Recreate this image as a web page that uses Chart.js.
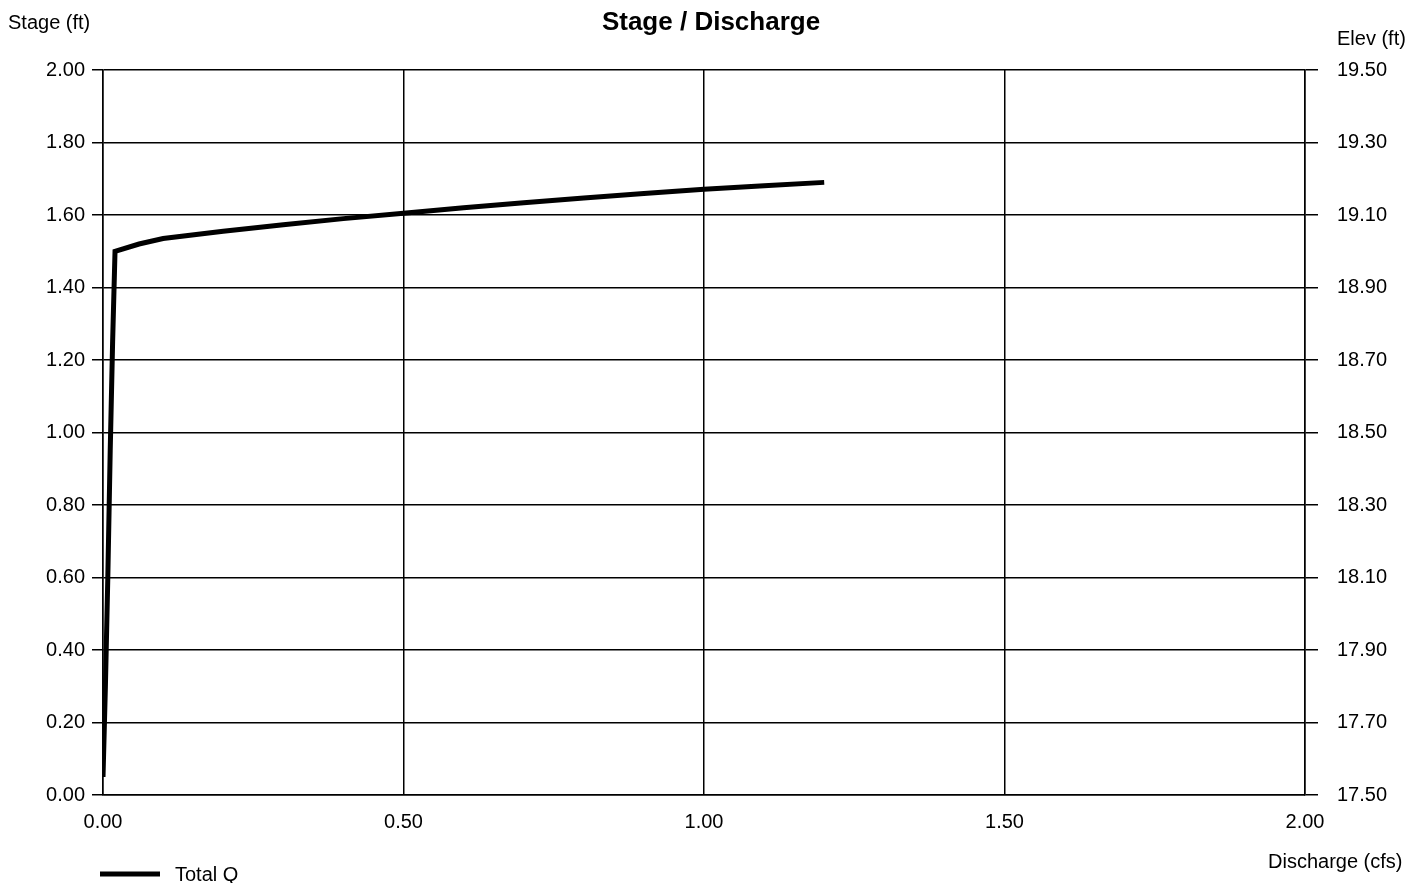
<!DOCTYPE html>
<html lang="en">

<head>
    <meta charset="UTF-8">
    <title>Stage / Discharge</title>
    <script src="https://cdn.jsdelivr.net/npm/chart.js"></script>
    <style>
        body { margin: 0; background: #fff; }
        #grafico { display: block; }
    </style>
</head>

<body>
    <canvas id="grafico" width="1424" height="883"></canvas>

    <script>
        // values
        const discharge = [0.000, 0.004, 0.008, 0.012, 0.016, 0.020, 0.060, 0.100, 0.200, 0.300, 0.400, 0.500, 0.600, 0.700, 0.800, 0.900, 1.000, 1.100, 1.200];
        const stage = [0.05, 0.30, 0.60, 0.95, 1.25, 1.50, 1.52, 1.535, 1.555, 1.573, 1.590, 1.605, 1.620, 1.634, 1.647, 1.659, 1.671, 1.681, 1.690];
        const baseElev = 17.50;
        const serieNome = 'Total Q';

        const fonte = '"Liberation Sans", Arial, sans-serif';

        const textos = {
            id: 'textos',
            afterDraw(chart) {
                const c = chart.ctx;
                c.save();
                c.fillStyle = '#000';
                c.textBaseline = 'middle';
                c.font = 'bold 26px ' + fonte;
                c.textAlign = 'center';
                c.fillText('Stage / Discharge', 711, 23);
                c.font = '20px ' + fonte;
                c.textAlign = 'left';
                c.fillText('Stage (ft)', 8, 23);
                c.fillText('Elev (ft)', 1337, 39);
                c.font = '20px ' + fonte;
                c.fillText('Discharge (cfs)', 1268, 862);
                c.fillText(serieNome, 175, 875);
                c.strokeStyle = '#000';
                c.lineWidth = 5;
                c.beginPath();
                c.moveTo(100, 874);
                c.lineTo(160, 874);
                c.stroke();
                c.restore();
            }
        };

        const ctx = document.getElementById('grafico').getContext('2d');
        new Chart(ctx, {
            type: 'line',
            data: {
                datasets: [{
                    label: serieNome,
                    data: discharge.map((x, i) => ({ x: x, y: stage[i] })),
                    borderColor: '#000',
                    borderWidth: 5,
                    pointRadius: 0,
                    tension: 0,
                    fill: false,
                    yAxisID: 'y'
                }, {
                    label: 'elev',
                    data: [],
                    yAxisID: 'y2'
                }]
            },
            options: {
                responsive: false,
                animation: false,
                layout: { padding: { top: 70, left: 0, right: 0, bottom: 0 } },
                plugins: {
                    legend: { display: false },
                    title: { display: false },
                    tooltip: { enabled: false }
                },
                scales: {
                    x: {
                        type: 'linear',
                        min: 0,
                        max: 2,
                        ticks: {
                            stepSize: 0.5,
                            color: '#000',
                            font: { family: fonte, size: 20 },
                            padding: 15,
                            callback: v => v.toFixed(2)
                        },
                        grid: { color: '#000', lineWidth: 1.5, drawTicks: false },
                        border: { color: '#000', width: 1.5 },
                        afterFit: s => { s.height = 88; }
                    },
                    y: {
                        position: 'left',
                        min: 0,
                        max: 2,
                        ticks: {
                            stepSize: 0.2,
                            color: '#000',
                            font: { family: fonte, size: 20 },
                            padding: 7,
                            callback: v => v.toFixed(2)
                        },
                        grid: { color: '#000', lineWidth: 1.5, tickLength: 11 },
                        border: { color: '#000', width: 1.5 },
                        afterFit: s => { s.width = 103; }
                    },
                    y2: {
                        position: 'right',
                        min: baseElev,
                        max: baseElev + 2,
                        ticks: {
                            stepSize: 0.2,
                            color: '#000',
                            font: { family: fonte, size: 20 },
                            padding: 19,
                            callback: v => v.toFixed(2)
                        },
                        grid: { drawOnChartArea: false, color: '#000', lineWidth: 1.5, tickLength: 13 },
                        border: { color: '#000', width: 1.5 },
                        afterFit: s => { s.width = 119; }
                    }
                }
            },
            plugins: [textos]
        });
    </script>
</body>

</html>
